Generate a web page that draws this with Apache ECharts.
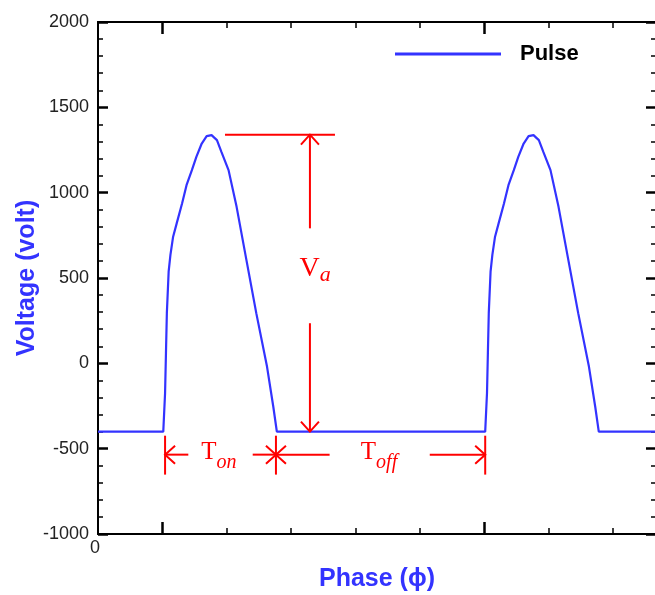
<!DOCTYPE html>
<html>
<head>
<meta charset="utf-8">
<title>Pulse</title>
<script src="https://cdn.jsdelivr.net/npm/echarts@6/dist/echarts.min.js"></script>
<style>
  html, body { margin: 0; padding: 0; background: #fff; }
  #chart { width: 655px; height: 595px; }
</style>
</head>
<body>
<div id="chart"></div>
<script>
// phase in degrees, one period = 360
const pulse = [
  [0, -400], [73, -400], [75, -175], [76, 59], [77, 294], [79, 537], [81, 635],
  [84, 742], [88, 820], [94, 937], [99, 1044], [105, 1132], [110, 1210],
  [116, 1288], [121.5, 1331], [127, 1337], [133, 1308], [138, 1239],
  [146, 1132], [155, 917], [166, 605], [177, 294], [189, -19], [196, -253],
  [200, -400],
  [433, -400], [435, -175], [436, 59], [437, 294], [439, 537], [441, 635],
  [444, 742], [448, 820], [454, 937], [459, 1044], [465, 1132], [470, 1210],
  [476, 1288], [481.5, 1331], [487, 1337], [493, 1308], [498, 1239],
  [506, 1132], [515, 917], [526, 605], [537, 294], [549, -19], [556, -253],
  [560, -400], [624, -400]
];

const xMajorTicks = [72, 432];
const xMinorTicks = [144, 216, 288, 360, 504, 576];
const xLabels = [0];

// annotation segments: x1, y1, x2, y2, arrow at end
const annoSegments = [
  [142, 1340, 265, 1340, 0],
  [237, 791, 237, 1340, 1],
  [237, 235, 237, -400, 1],
  [75, -424, 75, -652, 0],
  [199, -424, 199, -652, 0],
  [433, -424, 433, -652, 0],
  [101, -535, 75, -535, 1],
  [173, -535, 199, -535, 1],
  [259, -535, 199, -535, 1],
  [371, -535, 433, -535, 1]
];
const annoLabelPos = [[248, 541], [132.5, -535], [311, -535]];
const annoMain = ['V', 'T', 'T'];
const annoSub = ['a', 'on', 'off'];

const BLUE = '#3333ff';
const RED = '#ff0000';
const SANS = '"Liberation Sans", Arial, sans-serif';
const SERIF = '"Liberation Serif", "Times New Roman", serif';

function renderSeg(params, api) {
  var p1 = api.coord([api.value(0), api.value(1)]);
  var p2 = api.coord([api.value(2), api.value(3)]);
  var kids = [{
    type: 'line',
    shape: { x1: p1[0], y1: p1[1], x2: p2[0], y2: p2[1] },
    style: { stroke: RED, lineWidth: 2 }
  }];
  if (api.value(4)) {
    var dx = p2[0] - p1[0], dy = p2[1] - p1[1];
    var len = Math.sqrt(dx * dx + dy * dy);
    var ux = dx / len, uy = dy / len;
    var L = 10, W = 9;
    kids.push({
      type: 'polyline',
      shape: { points: [
        [p2[0] - ux * L - uy * W, p2[1] - uy * L + ux * W],
        [p2[0], p2[1]],
        [p2[0] - ux * L + uy * W, p2[1] - uy * L - ux * W]
      ] },
      style: { stroke: RED, fill: null, lineWidth: 2 }
    });
  }
  return { type: 'group', children: kids };
}

function renderLabel(params, api) {
  var i = params.dataIndex;
  var p = api.coord([api.value(0), api.value(1)]);
  var isV = annoMain[i] === 'V';
  return {
    type: 'group',
    children: [{
      type: 'text',
      x: p[0], y: p[1] - 2,
      style: {
        text: annoMain[i], fill: RED, align: 'right', verticalAlign: 'middle',
        font: (isV ? 28 : 25) + 'px ' + SERIF
      }
    }, {
      type: 'text',
      x: p[0], y: p[1] + (isV ? 4 : 8),
      style: {
        text: annoSub[i], fill: RED, align: 'left', verticalAlign: 'middle',
        font: 'italic ' + (isV ? 22 : 20) + 'px ' + SERIF
      }
    }]
  };
}

function xAxisCfg(pos, ticks, len, withLabel) {
  return {
    type: 'value',
    position: pos,
    min: 0,
    max: 624,
    name: withLabel ? 'Phase (ϕ)' : '',
    nameLocation: 'middle',
    nameGap: 33,
    nameTextStyle: { color: BLUE, fontSize: 25, fontWeight: 'bold', fontFamily: SANS },
    axisLine: { show: true, onZero: false, lineStyle: { color: '#000', width: 2 } },
    axisTick: { show: true, inside: true, length: len, customValues: ticks,
      lineStyle: { color: '#000', width: len > 8 ? 2.5 : 1.5 } },
    axisLabel: withLabel
      ? { show: true, customValues: xLabels, color: '#222', fontSize: 18, fontFamily: SANS, margin: 5, padding: [0, 6, 0, 0] }
      : { show: false },
    splitLine: { show: false }
  };
}

function yAxisCfg(pos, withLabel) {
  return {
    type: 'value',
    position: pos,
    min: -1000,
    max: 2000,
    interval: 500,
    name: withLabel ? 'Voltage (volt)' : '',
    nameLocation: 'middle',
    nameGap: 58,
    nameMoveOverlap: false,
    nameTextStyle: { color: BLUE, fontSize: 25, fontWeight: 'bold', fontFamily: SANS },
    axisLine: { show: true, onZero: false, lineStyle: { color: '#000', width: 2 } },
    axisTick: { show: true, inside: true, length: 10, lineStyle: { color: '#000', width: 2.5 } },
    minorTick: { show: true, splitNumber: 5, length: 5, lineStyle: { color: '#000', width: 1.5 } },
    axisLabel: withLabel
      ? { show: true, color: '#222', fontSize: 18, fontFamily: SANS, margin: 9,
          formatter: function (v) { return String(v); } }
      : { show: false },
    splitLine: { show: false },
    minorSplitLine: { show: false }
  };
}

const chart = echarts.init(document.getElementById('chart'), null, { renderer: 'canvas' });
chart.setOption({
  animation: false,
  backgroundColor: '#fff',
  grid: { left: 98, right: -1, top: 22, bottom: 61, outerBoundsMode: 'none', containLabel: false },
  legend: {
    data: ['Pulse'],
    left: 395,
    top: 43,
    padding: 0,
    icon: 'rect',
    itemWidth: 106,
    itemHeight: 3,
    textStyle: { color: '#000', fontSize: 22, fontWeight: 'bold', fontFamily: SANS, padding: [0, 0, 0, 14] }
  },
  xAxis: [
    xAxisCfg('bottom', xMinorTicks, 6, true),
    xAxisCfg('bottom', xMajorTicks, 12, false),
    xAxisCfg('top', xMinorTicks, 6, false),
    xAxisCfg('top', xMajorTicks, 12, false)
  ],
  yAxis: [yAxisCfg('left', true), yAxisCfg('right', false)],
  series: [
    {
      name: 'Pulse',
      type: 'line',
      data: pulse,
      symbol: 'none',
      showSymbol: false,
      lineStyle: { color: BLUE, width: 2.2 },
      itemStyle: { color: BLUE },
      z: 3
    },
    {
      name: 'arrows',
      type: 'custom',
      renderItem: renderSeg,
      data: annoSegments,
      silent: true,
      z: 4
    },
    {
      name: 'labels',
      type: 'custom',
      renderItem: renderLabel,
      data: annoLabelPos,
      silent: true,
      z: 4
    }
  ]
});
</script>
</body>
</html>
